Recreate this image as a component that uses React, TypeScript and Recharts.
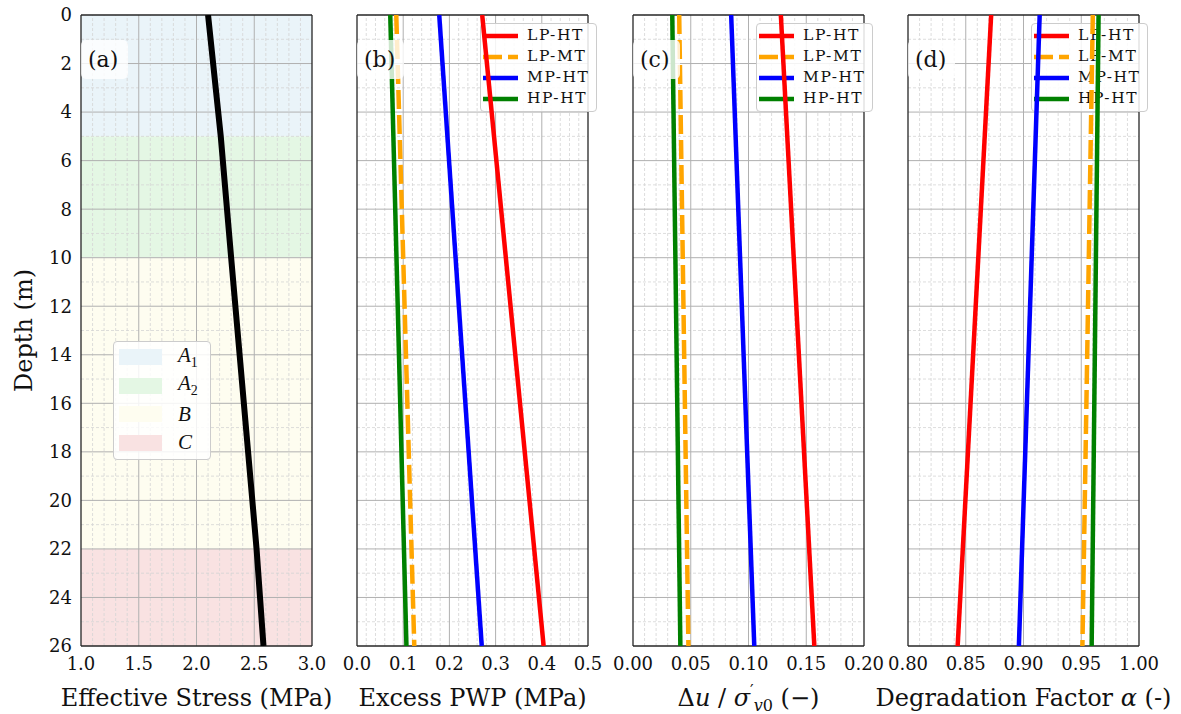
import React from "react";
import { LineChart, Line, XAxis, YAxis, ReferenceArea, ReferenceLine } from "recharts";

const FONT = "'DejaVu Serif', serif";
const INK = "#111111";
const FRAME = "#262626";

const PLOT_TOP = 15;
const PLOT_W = 231;
const PLOT_H = 631;
const FIG_H = 714;
const THIN = 0.01; // near-zero size for the mirrored tick axes

const depthMajor = [0, 2, 4, 6, 8, 10, 12, 14, 16, 18, 20, 22, 24, 26];
const depthMinor = [1, 3, 5, 7, 9, 11, 13, 15, 17, 19, 21, 23, 25];

// panel (a): effective stress profile and soil layers
const stressDepth = [0, 5, 10, 22, 26];
const effectiveStress = [2.1, 2.21, 2.3, 2.52, 2.58];
const layerLetter = ["A", "A", "B", "C"];
const layerSub = ["1", "2", "", ""];
const layerTop = [0, 5, 10, 22];
const layerBottom = [5, 10, 22, 26];
const layerFill = ["#eaf4f9", "#e4f7e4", "#fefdf0", "#f9e2e2"];

// panels (b)-(d): values at top and bottom of the profile
const profileDepth = [0, 26];
const caseNames = ["LP-HT", "LP-MT", "MP-HT", "HP-HT"];
const caseKeys = ["lpht", "lpmt", "mpht", "hpht"];
const caseColors = ["#ff0000", "#ffa500", "#0000ff", "#008000"];
const caseDash = ["", "19 6", "", ""];

const pwpLPHT = [0.271, 0.404];
const pwpLPMT = [0.085, 0.124];
const pwpMPHT = [0.178, 0.27];
const pwpHPHT = [0.072, 0.107];

const ratioLPHT = [0.128, 0.157];
const ratioLPMT = [0.04, 0.048];
const ratioMPHT = [0.085, 0.105];
const ratioHPHT = [0.034, 0.041];

const alphaLPHT = [0.872, 0.843];
const alphaLPMT = [0.96, 0.951];
const alphaMPHT = [0.914, 0.896];
const alphaHPHT = [0.965, 0.959];

// tick positions
const aMajor = [1.0, 1.5, 2.0, 2.5, 3.0];
const bMajor = [0, 0.1, 0.2, 0.3, 0.4, 0.5];
const cMajor = [0, 0.05, 0.1, 0.15, 0.2];
const dMajor = [0.8, 0.85, 0.9, 0.95, 1.0];

function steps(start: number, stop: number, step: number) {
  const out: number[] = [];
  const n = Math.round((stop - start) / step);
  for (let i = 0; i <= n; i++) out.push(Number((start + i * step).toFixed(4)));
  return out;
}

const aMinor = steps(1, 3, 0.1);
const bMinor = steps(0, 0.5, 0.02);
const cMinor = steps(0, 0.2, 0.01);
const dMinor = steps(0.8, 1.0, 0.01);

function buildRows(depth: number[], cols: Record<string, number[]>) {
  return depth.map((d, i) => {
    const row: Record<string, number> = { depth: d };
    Object.keys(cols).forEach((k) => (row[k] = cols[k][i]));
    return row;
  });
}

const stressRows = buildRows(stressDepth, { stress: effectiveStress });
const pwpRows = buildRows(profileDepth, { lpht: pwpLPHT, lpmt: pwpLPMT, mpht: pwpMPHT, hpht: pwpHPHT });
const ratioRows = buildRows(profileDepth, { lpht: ratioLPHT, lpmt: ratioLPMT, mpht: ratioMPHT, hpht: ratioHPHT });
const alphaRows = buildRows(profileDepth, { lpht: alphaLPHT, lpmt: alphaLPMT, mpht: alphaMPHT, hpht: alphaHPHT });

type Series = { key: string; color: string; dash: string; width: number };

type PanelCfg = {
  plotLeft: number;
  domain: [number, number];
  major: number[];
  minor: number[];
  digits: number;
  title: React.ReactNode;
  tag: string;
  rows: Record<string, number>[];
  series: Series[];
  showDepth: boolean;
  bands: boolean;
  legend: boolean;
};

const caseSeries: Series[] = caseKeys.map((k, i) => ({
  key: k,
  color: caseColors[i],
  dash: caseDash[i],
  width: 4.5,
}));

const titleText = (content: React.ReactNode) => (props: any) => {
  const vb = props.viewBox || { x: 0, y: 0, width: 0, height: 0 };
  return (
    <text
      x={vb.x + vb.width / 2}
      y={vb.y + vb.height - 8}
      textAnchor="middle"
      fontSize={24}
      fontFamily={FONT}
      fill={INK}
    >
      {content}
    </text>
  );
};

const panels: PanelCfg[] = [
  {
    plotLeft: 81,
    domain: [1, 3],
    major: aMajor,
    minor: aMinor,
    digits: 1,
    title: "Effective Stress (MPa)",
    tag: "(a)",
    rows: stressRows,
    series: [{ key: "stress", color: "#000000", dash: "", width: 6 }],
    showDepth: true,
    bands: true,
    legend: false,
  },
  {
    plotLeft: 357,
    domain: [0, 0.5],
    major: bMajor,
    minor: bMinor,
    digits: 1,
    title: "Excess PWP (MPa)",
    tag: "(b)",
    rows: pwpRows,
    series: caseSeries,
    showDepth: false,
    bands: false,
    legend: true,
  },
  {
    plotLeft: 633,
    domain: [0, 0.2],
    major: cMajor,
    minor: cMinor,
    digits: 2,
    title: (
      <>
        <tspan>Δ</tspan>
        <tspan fontStyle="italic">u</tspan>
        <tspan> / </tspan>
        <tspan fontStyle="italic">σ</tspan>
        <tspan fontSize={16} dy={-10}>′</tspan>
        <tspan fontSize={16} fontStyle="italic" dy={15}>v</tspan>
        <tspan fontSize={16}>0</tspan>
        <tspan dy={-5}> (−)</tspan>
      </>
    ),
    tag: "(c)",
    rows: ratioRows,
    series: caseSeries,
    showDepth: false,
    bands: false,
    legend: true,
  },
  {
    plotLeft: 908,
    domain: [0.8, 1.0],
    major: dMajor,
    minor: dMinor,
    digits: 2,
    title: (
      <>
        <tspan>Degradation Factor </tspan>
        <tspan fontStyle="italic">α</tspan>
        <tspan> (-)</tspan>
      </>
    ),
    tag: "(d)",
    rows: alphaRows,
    series: caseSeries,
    showDepth: false,
    bands: false,
    legend: true,
  },
];

const tickLineStyle = { stroke: FRAME, strokeWidth: 1 };
const frameStyle = { stroke: FRAME, strokeWidth: 1.3 };

function PanelFrame({ cfg }: { cfg: PanelCfg }) {
  const padL = cfg.showDepth ? 81 : 40;
  const padR = 40;
  const inside = (v: number) => v > cfg.domain[0] + 1e-9 && v < cfg.domain[1] - 1e-9;
  const vMajor = cfg.major.filter(inside);
  const vMinor = cfg.minor.filter((v) => inside(v) && !cfg.major.some((m) => Math.abs(m - v) < 1e-9));
  const hMajor = depthMajor.filter((d) => d > 0 && d < 26);

  return (
    <div style={{ position: "absolute", left: cfg.plotLeft - padL, top: 0 }}>
      <LineChart
        layout="vertical"
        width={padL + PLOT_W + padR}
        height={FIG_H}
        data={cfg.rows}
        margin={{ top: PLOT_TOP, right: padR, bottom: 0, left: cfg.showDepth ? 0 : padL }}
      >
        <XAxis xAxisId="xbM" type="number" domain={cfg.domain} allowDataOverflow orientation="bottom" mirror height={THIN}
          ticks={cfg.major} interval={0} tick={false} tickSize={10} tickLine={tickLineStyle} axisLine={frameStyle} />
        <XAxis xAxisId="xbm" type="number" domain={cfg.domain} allowDataOverflow orientation="bottom" mirror height={THIN}
          ticks={cfg.minor} interval={0} tick={false} tickSize={6} tickLine={tickLineStyle} axisLine={false} />
        <XAxis xAxisId="xtM" type="number" domain={cfg.domain} allowDataOverflow orientation="top" mirror height={THIN}
          ticks={cfg.major} interval={0} tick={false} tickSize={10} tickLine={tickLineStyle} axisLine={frameStyle} />
        <XAxis xAxisId="xtm" type="number" domain={cfg.domain} allowDataOverflow orientation="top" mirror height={THIN}
          ticks={cfg.minor} interval={0} tick={false} tickSize={6} tickLine={tickLineStyle} axisLine={false} />
        <XAxis
          xAxisId="x"
          type="number"
          domain={cfg.domain}
          allowDataOverflow
          orientation="bottom"
          height={FIG_H - PLOT_TOP - PLOT_H}
          ticks={cfg.major}
          interval={0}
          tickFormatter={(v: number) => v.toFixed(cfg.digits)}
          tickLine={false}
          tickSize={0}
          tickMargin={11}
          axisLine={false}
          tick={{ fontSize: 18, fill: INK, fontFamily: FONT }}
          label={titleText(cfg.title)}
        />

        <YAxis yAxisId="ylM" type="number" domain={[0, 26]} allowDataOverflow orientation="left" mirror width={THIN}
          ticks={depthMajor} interval={0} tick={false} tickSize={10} tickLine={tickLineStyle} axisLine={frameStyle} />
        <YAxis yAxisId="ylm" type="number" domain={[0, 26]} allowDataOverflow orientation="left" mirror width={THIN}
          ticks={depthMinor} interval={0} tick={false} tickSize={6} tickLine={tickLineStyle} axisLine={false} />
        <YAxis yAxisId="yrM" type="number" domain={[0, 26]} allowDataOverflow orientation="right" mirror width={THIN}
          ticks={depthMajor} interval={0} tick={false} tickSize={10} tickLine={tickLineStyle} axisLine={frameStyle} />
        <YAxis yAxisId="yrm" type="number" domain={[0, 26]} allowDataOverflow orientation="right" mirror width={THIN}
          ticks={depthMinor} interval={0} tick={false} tickSize={6} tickLine={tickLineStyle} axisLine={false} />
        {cfg.showDepth ? (
          <YAxis
            yAxisId="y"
            type="number"
            dataKey="depth"
            domain={[0, 26]}
            allowDataOverflow
            width={81}
            ticks={depthMajor}
            interval={0}
            tickLine={false}
            tickSize={0}
            tickMargin={9}
            axisLine={false}
            tick={{ fontSize: 18, fill: INK, fontFamily: FONT }}
            label={{
              value: "Depth (m)",
              angle: -90,
              position: "insideLeft",
              offset: 23,
              style: { textAnchor: "middle", fontSize: 24, fontFamily: FONT, fill: INK },
            }}
          />
        ) : (
          <YAxis yAxisId="y" type="number" dataKey="depth" domain={[0, 26]} allowDataOverflow hide width={0} />
        )}

        {cfg.bands &&
          layerTop.map((t, i) => (
            <ReferenceArea
              key={`band-${i}`}
              xAxisId="x"
              yAxisId="y"
              y1={t}
              y2={layerBottom[i]}
              fill={layerFill[i]}
              fillOpacity={1}
              stroke="none"
            />
          ))}
        {vMinor.map((v) => (
          <ReferenceLine key={`vm-${v}`} xAxisId="x" yAxisId="y" x={v} stroke="#d4d4d4" strokeWidth={0.8} strokeDasharray="3 2" />
        ))}
        {depthMinor.map((d) => (
          <ReferenceLine key={`hm-${d}`} xAxisId="x" yAxisId="y" y={d} stroke="#d4d4d4" strokeWidth={0.8} strokeDasharray="3 2" />
        ))}
        {vMajor.map((v) => (
          <ReferenceLine key={`vM-${v}`} xAxisId="x" yAxisId="y" x={v} stroke="#b0b0b0" strokeWidth={1} />
        ))}
        {hMajor.map((d) => (
          <ReferenceLine key={`hM-${d}`} xAxisId="x" yAxisId="y" y={d} stroke="#b0b0b0" strokeWidth={1} />
        ))}
      </LineChart>
    </div>
  );
}

function PanelLines({ cfg }: { cfg: PanelCfg }) {
  return (
    <div style={{ position: "absolute", left: cfg.plotLeft, top: PLOT_TOP }}>
      <LineChart layout="vertical" width={PLOT_W} height={PLOT_H} data={cfg.rows} margin={{ top: 0, right: 0, bottom: 0, left: 0 }}>
        <XAxis xAxisId="x" type="number" domain={cfg.domain} allowDataOverflow hide />
        <YAxis yAxisId="y" type="number" dataKey="depth" domain={[0, 26]} allowDataOverflow hide />
        {cfg.series.map((s) => (
          <Line
            key={s.key}
            xAxisId="x"
            yAxisId="y"
            type="linear"
            dataKey={s.key}
            stroke={s.color}
            strokeWidth={s.width}
            strokeDasharray={s.dash || undefined}
            dot={false}
            activeDot={false}
            isAnimationActive={false}
          />
        ))}
      </LineChart>
    </div>
  );
}

function CaseLegend({ cfg }: { cfg: PanelCfg }) {
  return (
    <div
      style={{
        position: "absolute",
        left: cfg.plotLeft + PLOT_W - 108,
        top: 23,
        width: 117,
        height: 89,
        boxSizing: "border-box",
        background: "rgba(255,255,255,0.85)",
        border: "1px solid #cccccc",
        borderRadius: 4,
        paddingTop: 1,
      }}
    >
      {caseNames.map((name, i) => (
        <div key={name} style={{ display: "flex", alignItems: "center", height: 21.2 }}>
          <svg width={44} height={10} style={{ marginLeft: 2, flex: "none" }}>
            <line x1={0} x2={35} y1={5} y2={5} stroke={caseColors[i]} strokeWidth={4.5}
              strokeDasharray={caseDash[i] || undefined} />
          </svg>
          <span style={{ fontFamily: FONT, fontSize: 15.5, letterSpacing: 1.6, color: INK, lineHeight: 1 }}>{name}</span>
        </div>
      ))}
    </div>
  );
}

function LayerLegend() {
  return (
    <div
      style={{
        position: "absolute",
        left: 113,
        top: 341,
        width: 98,
        height: 119,
        boxSizing: "border-box",
        background: "rgba(255,255,255,0.85)",
        border: "1px solid #cccccc",
        borderRadius: 4,
        paddingTop: 1,
      }}
    >
      {layerLetter.map((l, i) => (
        <div key={i} style={{ display: "flex", alignItems: "center", height: 28.5 }}>
          <div style={{ marginLeft: 5, width: 43, height: 16, background: layerFill[i], flex: "none" }} />
          <span
            style={{
              marginLeft: 16,
              fontFamily: "'Liberation Serif', serif",
              fontStyle: "italic",
              fontSize: 21,
              color: INK,
              lineHeight: 1,
            }}
          >
            {l}
            {layerSub[i] && <sub style={{ fontSize: 14, fontStyle: "normal" }}>{layerSub[i]}</sub>}
          </span>
        </div>
      ))}
    </div>
  );
}

function PanelTag({ cfg }: { cfg: PanelCfg }) {
  return (
    <div
      style={{
        position: "absolute",
        left: cfg.plotLeft,
        top: 40,
        width: 47,
        height: 39,
        background: "rgba(255,255,255,0.8)",
        borderRadius: 5,
        fontFamily: FONT,
        fontSize: 22,
        color: INK,
        lineHeight: "39px",
        paddingLeft: 7,
        boxSizing: "border-box",
      }}
    >
      {cfg.tag}
    </div>
  );
}

export default function App() {
  return (
    <div style={{ position: "absolute", left: 0, top: 0, width: 1181, height: FIG_H, background: "#ffffff", overflow: "hidden" }}>
      {panels.map((p) => (
        <PanelFrame key={`f-${p.tag}`} cfg={p} />
      ))}
      {panels.map((p) => (p.legend ? <CaseLegend key={`l-${p.tag}`} cfg={p} /> : null))}
      <LayerLegend />
      {panels.map((p) => (
        <PanelLines key={`s-${p.tag}`} cfg={p} />
      ))}
      {panels.map((p) => (
        <PanelTag key={`t-${p.tag}`} cfg={p} />
      ))}
    </div>
  );
}
